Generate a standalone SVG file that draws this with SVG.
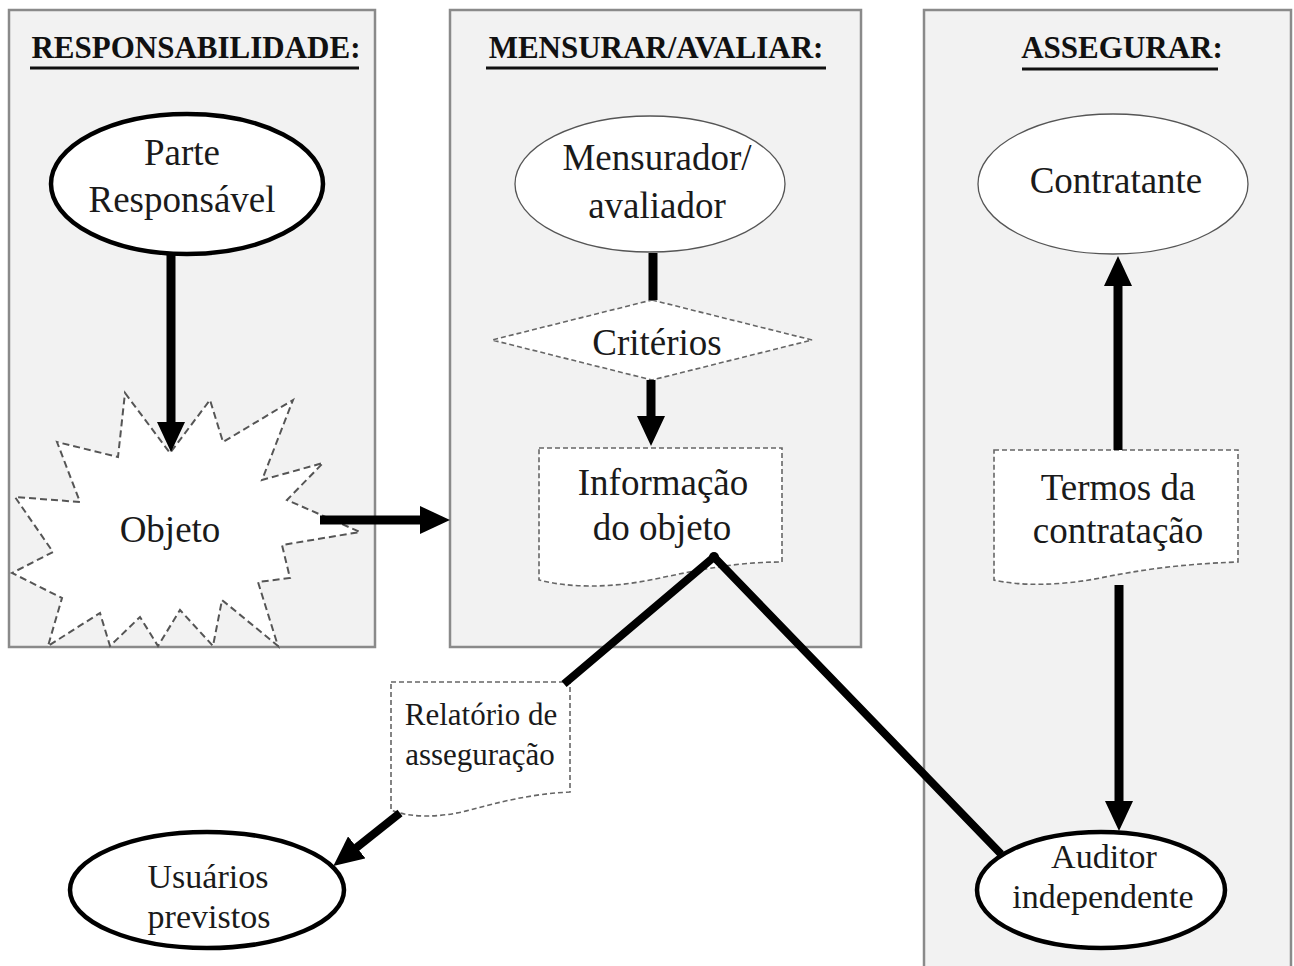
<svg xmlns="http://www.w3.org/2000/svg" width="1294" height="966" viewBox="0 0 1294 966">
<defs>
<style>
.panel{fill:#f2f2f2;stroke:#8a8a8a;stroke-width:2.5}
.title{font-family:"Liberation Serif",serif;font-weight:bold;font-size:31px;fill:#111;text-anchor:middle}
.ul{stroke:#111;stroke-width:3}
.t{font-family:"Liberation Serif",serif;font-size:37px;fill:#1a1a1a;text-anchor:middle}
.t34{font-size:34px}
.t31{font-size:31px}
.thick{fill:#fff;stroke:#000;stroke-width:4.5}
.thin{fill:#fff;stroke:#555;stroke-width:1.3}
.dash{fill:#fff;stroke:#666;stroke-width:1.6;stroke-dasharray:5 3}
.burst{fill:#fff;stroke:#555;stroke-width:2;stroke-dasharray:7 4}
.conn{fill:none;stroke:#000;stroke-width:9}
.conn8{fill:none;stroke:#000;stroke-width:8;stroke-linejoin:round}
</style>
<marker id="ah" viewBox="0 0 30 28" refX="1" refY="14" markerWidth="30" markerHeight="28" markerUnits="userSpaceOnUse" orient="auto">
<path d="M0,0 L30,14 L0,28 Z" fill="#000"/>
</marker>
</defs>
<rect x="0" y="0" width="1294" height="966" fill="#fff"/>
<g id="panels">
<rect class="panel" x="9" y="10" width="366" height="637"/>
<rect class="panel" x="450" y="10" width="411" height="637"/>
<rect class="panel" x="924" y="10" width="367" height="970"/>
<text class="title" x="196" y="58">RESPONSABILIDADE:</text>
<line class="ul" x1="30" y1="68" x2="359" y2="68"/>
<text class="title" x="656" y="58">MENSURAR/AVALIAR:</text>
<line class="ul" x1="486" y1="68" x2="826" y2="68"/>
<text class="title" x="1122" y="58">ASSEGURAR:</text>
<line class="ul" x1="1022" y1="69" x2="1218" y2="69"/>
</g>
<g id="node-objeto">
<path class="burst" d="M125,393 L170,453 L210,400 L223,442 L293,400 L262,480 L323,463 L287,500 L360,532 L282,545 L290,578 L258,582 L278,646 L222,600 L213,646 L180,610 L158,646 L140,617 L110,646 L100,613 L48,646 L62,598 L12,573 L53,552 L15,497 L80,502 L57,442 L118,457 Z"/>
<text class="t" x="170" y="542">Objeto</text>
</g>
<g id="node-parte">
<ellipse class="thick" cx="187" cy="184" rx="136" ry="70"/>
<text class="t" x="182" y="165">Parte</text>
<text class="t" x="182" y="212">Responsável</text>
</g>
<g id="node-mensurador">
<ellipse class="thin" cx="650" cy="184" rx="135" ry="68"/>
<text class="t" x="657" y="170">Mensurador/</text>
<text class="t" x="657" y="218">avaliador</text>
</g>
<g id="node-criterios">
<path class="dash" d="M652,300 L812,340 L652,380 L492,340 Z"/>
<text class="t" x="657" y="355">Critérios</text>
</g>
<g id="node-informacao">
<path class="dash" d="M539,448 H782 V562 C730,562 690,572 650,580 C610,588 570,588 539,580 Z"/>
<text class="t" x="663" y="495">Informação</text>
<text class="t" x="662" y="540">do objeto</text>
</g>
<g id="node-contratante">
<ellipse class="thin" cx="1113" cy="184" rx="135" ry="70"/>
<text class="t" x="1116" y="193">Contratante</text>
</g>
<g id="node-termos">
<path class="dash" d="M994,450 H1238 V562 C1180,564 1140,570 1100,578 C1060,586 1020,586 994,580 Z"/>
<text class="t" x="1118" y="500">Termos da</text>
<text class="t" x="1118" y="543">contratação</text>
</g>
<g id="node-relatorio">
<path class="dash" d="M391,682 H570 V792 C530,794 500,802 470,810 C440,818 410,818 391,810 Z"/>
<text class="t t31" x="481" y="725">Relatório de</text>
<text class="t t31" x="480" y="765">asseguração</text>
</g>
<g id="node-usuarios">
<ellipse class="thick" cx="207" cy="890" rx="137" ry="58"/>
<text class="t t34" x="208" y="888">Usuários</text>
<text class="t t34" x="209" y="928">previstos</text>
</g>
<g id="node-auditor">
<ellipse class="thick" cx="1101" cy="890" rx="124" ry="58"/>
<text class="t t34" x="1104" y="868">Auditor</text>
<text class="t t34" x="1103" y="908">independente</text>
</g>
<g id="connectors">
<line class="conn" x1="171" y1="255" x2="171" y2="423" marker-end="url(#ah)"/>
<line class="conn" x1="320" y1="520" x2="421" y2="520" marker-end="url(#ah)"/>
<line class="conn" x1="653" y1="253" x2="653" y2="300"/>
<line class="conn" x1="651" y1="380" x2="651" y2="417" marker-end="url(#ah)"/>
<line class="conn" x1="1118" y1="450" x2="1118" y2="285" marker-end="url(#ah)"/>
<line class="conn" x1="1119" y1="585" x2="1119" y2="802" marker-end="url(#ah)"/>
<line class="conn8" x1="400" y1="813" x2="356" y2="848" marker-end="url(#ah)"/>
<path class="conn8" d="M564,684 L714,557 L1001,854"/>
<circle cx="714" cy="557" r="5" fill="#000"/>
</g>
</svg>
